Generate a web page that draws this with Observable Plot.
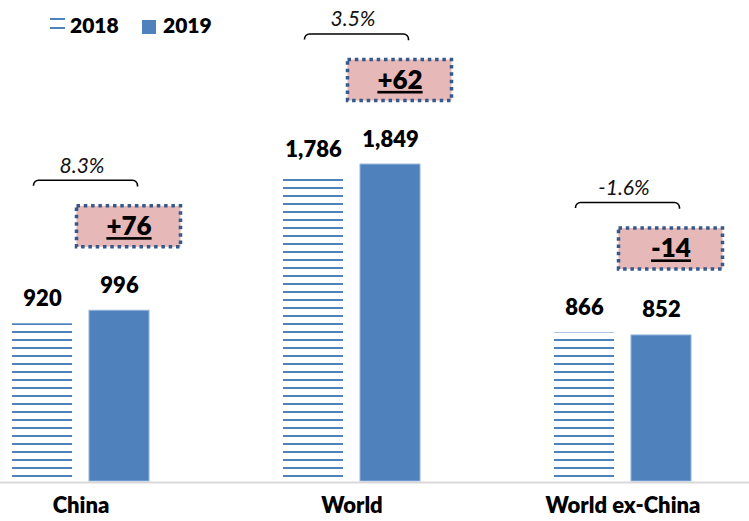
<!DOCTYPE html>
<html><head><meta charset="utf-8">
<script src="https://cdn.jsdelivr.net/npm/d3@7"></script>
<script src="https://cdn.jsdelivr.net/npm/@observablehq/plot@0.6"></script>
<style>
body{margin:0;background:#fff;font-family:Lato,sans-serif;}
#wrap{position:relative;width:749px;height:521px;overflow:hidden;}
#wrap svg.plot{position:absolute;left:0;top:0;}
.lg{position:absolute;font:800 21px Lato,sans-serif;color:#000;line-height:1;}
</style></head><body>
<div id="wrap"></div>
<script>
const categories = ["China", "World", "World ex-China"];
const seriesNames = ["2018", "2019"];
const values2018 = [920, 1786, 866];
const values2019 = [996, 1849, 852];
const changeLabels = ["+76", "+62", "-14"];
const pctLabels = ["8.3%", "3.5%", "-1.6%"];

const Y_MAX = 2806, PLOT_H = 481;
const pxU = Y_MAX / PLOT_H;
const BLUE = "#4F81BD";
const fmt = d3.format(",");

const rows = categories.map((c, i) => ({
  cat: c, v2018: values2018[i], v2019: values2019[i],
  change: changeLabels[i], pct: pctLabels[i],
  top: Math.max(values2018[i], values2019[i])
}));

const plot = Plot.plot({
  width: 749, height: 521,
  marginTop: 0, marginBottom: 40, marginLeft: 0, marginRight: 0,
  x: {type: "band", domain: categories, range: [-55, 758], padding: 0, axis: null},
  y: {domain: [0, Y_MAX], axis: null},
  style: {fontFamily: "Lato, sans-serif", background: "transparent"},
  marks: [
    Plot.barY(rows, {x: "cat", y: "v2018", fill: "url(#hatch2018)", insetLeft: 67, insetRight: 144}),
    Plot.barY(rows, {x: "cat", y: "v2019", fill: BLUE, stroke: "#93B3DB", strokeWidth: 1, insetLeft: 144, insetRight: 67}),
    Plot.ruleY([0], {stroke: "#D9D9D9", strokeWidth: 2, dy: 1}),
    Plot.text(rows, {x: "cat", y: "v2018", text: d => fmt(d.v2018), dx: -38.5, dy: -25, fontSize: 22, fontWeight: 800, fill: "#000"}),
    Plot.text(rows, {x: "cat", y: "v2019", text: d => fmt(d.v2019), dx: 38.5, dy: -25, fontSize: 22, fontWeight: 800, fill: "#000"}),
    // brace
    Plot.barY(rows, {x: "cat", y1: d => d.top + 118 * pxU, y2: d => d.top + 130 * pxU,
      fill: "none", stroke: "#000", strokeWidth: 1.6, rx: 5,
      strokeDasharray: "102.85 111.71 8.85", insetLeft: 88.5, insetRight: 78.5}),
    Plot.text(rows, {x: "cat", y: d => d.top + 130 * pxU, text: "pct", dy: -15, dx: 1, fontSize: 21, fontStyle: "italic", fill: "#111"}),
    // change box
    Plot.barY(rows, {x: "cat", y1: d => d.top + 63.5 * pxU, y2: d => d.top + 104.5 * pxU,
      fill: "#E6B9B8", stroke: "#36598A", strokeWidth: 3.5, strokeDasharray: "3.5 3.8",
      insetLeft: 131.5, insetRight: 35.5}),
    Plot.text(rows, {x: "cat", y: d => d.top + 84 * pxU, text: "change", dx: 48, fontSize: 26, fontWeight: 800, fill: "#000"}),
    // category labels
    Plot.text(categories, {x: d => d, frameAnchor: "bottom", dy: 31, fontSize: 22, fontWeight: 800, fill: "#000"})
  ]
});

const svg = d3.select(plot);
const defs = svg.insert("defs", ":first-child");
const pat = defs.append("pattern").attr("id", "hatch2018")
  .attr("patternUnits", "userSpaceOnUse").attr("width", 8).attr("height", 8);
pat.append("rect").attr("x", 0).attr("y", 3).attr("width", 8).attr("height", 2).attr("fill", BLUE);
svg.selectAll("text").filter(function () { return changeLabels.includes(this.textContent); })
  .style("text-decoration", "underline").style("text-decoration-thickness", "2.5px");

const wrap = document.getElementById("wrap");
wrap.appendChild(plot);

// legend
const lg = d3.select(wrap);
const icon = lg.append("svg").attr("width", 15).attr("height", 12)
  .style("position", "absolute").style("left", "50px").style("top", "18px");
icon.append("rect").attr("x", 0).attr("y", 0).attr("width", 15).attr("height", 2).attr("fill", BLUE);
icon.append("rect").attr("x", 0).attr("y", 9).attr("width", 15).attr("height", 2).attr("fill", BLUE);
lg.append("div").attr("class", "lg").style("left", "70px").style("top", "14px").text(seriesNames[0]);
lg.append("div").style("position", "absolute").style("left", "142px").style("top", "20px")
  .style("width", "14px").style("height", "14px").style("background", BLUE);
lg.append("div").attr("class", "lg").style("left", "163px").style("top", "14px").text(seriesNames[1]);
</script>
</body></html>
